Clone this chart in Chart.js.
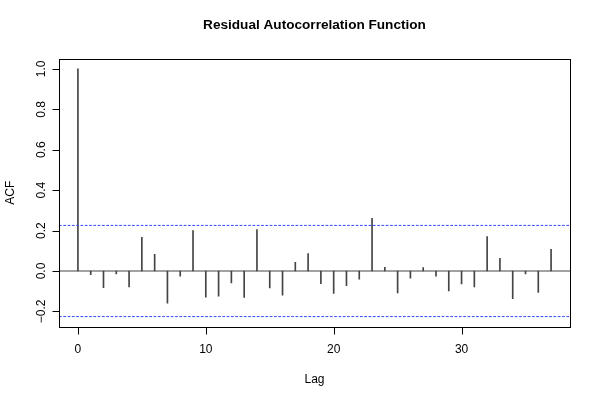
<!DOCTYPE html>
<html><head><meta charset="utf-8">
<script src="https://cdn.jsdelivr.net/npm/chart.js@4/dist/chart.umd.min.js"></script>
<style>html,body{margin:0;padding:0;background:#fff}#wrap{width:600px;height:400px}</style>
</head><body><div id="wrap"><canvas id="c" width="600" height="400"></canvas></div>
<script>
const lags = [0,1,2,3,4,5,6,7,8,9,10,11,12,13,14,15,16,17,18,19,20,21,22,23,24,25,26,27,28,29,30,31,32,33,34,35,36,37];
const acfValues = [1.000,-0.018,-0.083,-0.015,-0.079,0.167,0.083,-0.159,-0.025,0.200,-0.129,-0.124,-0.059,-0.131,0.205,-0.084,-0.119,0.043,0.086,-0.063,-0.111,-0.073,-0.040,0.261,0.018,-0.109,-0.035,0.017,-0.025,-0.099,-0.064,-0.079,0.170,0.063,-0.137,-0.015,-0.106,0.107];
const confLimit = 0.2256;
const xTicks = [0,10,20,30];
const yTicks = [-0.2,0.0,0.2,0.4,0.6,0.8,1.0];
const yTickLabels = ["\u22120.2","0.0","0.2","0.4","0.6","0.8","1.0"];
const titleText = "Residual Autocorrelation Function";
const xLabel = "Lag";
const yLabel = "ACF";

const xLo = Math.min(...lags), xHi = Math.max(...lags);
const xPad = (xHi - xLo) * 0.04;
const yLo = Math.min(-confLimit, ...acfValues), yHi = Math.max(confLimit, ...acfValues);
const yPad = (yHi - yLo) * 0.04;
const X_MIN = xLo - xPad, X_MAX = xHi + xPad, Y_MIN = yLo - yPad, Y_MAX = yHi + yPad;

const FONT = '"Liberation Sans", Arial, Helvetica, sans-serif';

const rAxes = {
  id: 'rAxes',
  afterDraw(chart) {
    const {ctx, chartArea: a, scales: {x, y}} = chart;
    ctx.save();
    ctx.strokeStyle = '#000'; ctx.lineWidth = 1;
    ctx.strokeRect(Math.round(a.left)+0.5, Math.round(a.top)+0.5, Math.round(a.right-a.left), Math.round(a.bottom-a.top));
    ctx.fillStyle = '#000';
    ctx.font = '12px ' + FONT;
    const xb = Math.round(a.bottom)+0.5;
    ctx.beginPath();
    const px0 = Math.round(x.getPixelForValue(xTicks[0]))+0.5, px1 = Math.round(x.getPixelForValue(xTicks[xTicks.length-1]))+0.5;
    ctx.moveTo(px0, xb); ctx.lineTo(px1, xb);
    xTicks.forEach(t => { const px = Math.round(x.getPixelForValue(t))+0.5; ctx.moveTo(px, xb); ctx.lineTo(px, xb+7); });
    ctx.stroke();
    ctx.textAlign = 'center'; ctx.textBaseline = 'alphabetic';
    xTicks.forEach(t => ctx.fillText(String(t), x.getPixelForValue(t), a.bottom + 26));
    ctx.fillText(xLabel, (a.left+a.right)/2, a.bottom + 56);
    const yl = Math.round(a.left)+0.5;
    ctx.beginPath();
    const py0 = Math.round(y.getPixelForValue(yTicks[0]))+0.5, py1 = Math.round(y.getPixelForValue(yTicks[yTicks.length-1]))+0.5;
    ctx.moveTo(yl, py0); ctx.lineTo(yl, py1);
    yTicks.forEach(t => { const py = Math.round(y.getPixelForValue(t))+0.5; ctx.moveTo(yl, py); ctx.lineTo(yl-7, py); });
    ctx.stroke();
    yTicks.forEach((t, i) => {
      ctx.save();
      ctx.translate(a.left - 14, y.getPixelForValue(t));
      ctx.rotate(-Math.PI/2);
      ctx.textAlign = 'center'; ctx.textBaseline = 'alphabetic';
      ctx.fillText(yTickLabels[i], 0, 0);
      ctx.restore();
    });
    ctx.save();
    ctx.translate(a.left - 45, (a.top + a.bottom)/2);
    ctx.rotate(-Math.PI/2);
    ctx.textAlign = 'center';
    ctx.fillText(yLabel, 0, 0);
    ctx.restore();
    ctx.font = 'bold 13.6px ' + FONT;
    ctx.textAlign = 'center';
    ctx.fillText(titleText, (a.left+a.right)/2, 29);
    ctx.restore();
  }
};

new Chart(document.getElementById('c'), {
  type: 'bar',
  data: {
    datasets: [
      {
        type: 'line', label: 'zero',
        data: [{x: X_MIN, y: 0}, {x: X_MAX, y: 0}],
        borderColor: '#444', borderWidth: 1, pointRadius: 0, order: 2
      },
      {
        type: 'line', label: 'upper',
        data: [{x: X_MIN, y: confLimit}, {x: X_MAX, y: confLimit}],
        borderColor: '#3344ff', borderWidth: 1, borderDash: [2.7, 1.6], pointRadius: 0, order: 0
      },
      {
        type: 'line', label: 'lower',
        data: [{x: X_MIN, y: -confLimit}, {x: X_MAX, y: -confLimit}],
        borderColor: '#3344ff', borderWidth: 1, borderDash: [2.7, 1.6], pointRadius: 0, order: 0
      },
      {
        type: 'bar', label: 'ACF',
        data: lags.map((l, i) => ({x: l, y: acfValues[i]})),
        backgroundColor: '#444', borderWidth: 0, barThickness: 1, order: 1
      }
    ]
  },
  options: {
    responsive: false, animation: false, devicePixelRatio: 1,
    layout: {padding: {left: 59, right: 30, top: 59, bottom: 73.5}},
    plugins: {legend: {display: false}, tooltip: {enabled: false}, title: {display: false}},
    scales: {
      x: {type: 'linear', min: X_MIN, max: X_MAX, offset: false, display: false},
      y: {type: 'linear', min: Y_MIN, max: Y_MAX, display: false}
    }
  },
  plugins: [rAxes]
});
</script>
</body></html>
